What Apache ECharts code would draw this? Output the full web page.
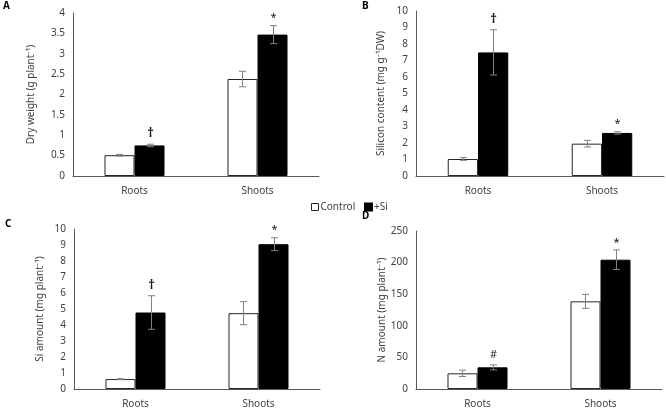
<!DOCTYPE html>
<html><head><meta charset="utf-8">
<script src="https://cdn.jsdelivr.net/npm/echarts@6/dist/echarts.min.js"></script>
<style>html,body{margin:0;padding:0;background:#fff}#c{width:666px;height:409px}</style>
</head><body><div id="c"></div>
<script>
// ---- data ----
const categories = ['Roots', 'Shoots'];
const seriesNames = ['Control', '+Si'];

// Panel A: Dry weight (g plant-1)
const aControl = [0.51, 2.38];
const aControlErr = [0.02, 0.19];
const aSi = [0.75, 3.47];
const aSiErr = [0.03, 0.22];
const aMarks = ['†', '*'];
const aTicks = { max: 4, interval: 0.5 };

// Panel B: Silicon content (mg g-1 DW)
const bControl = [1.03, 1.96];
const bControlErr = [0.08, 0.2];
const bSi = [7.49, 2.61];
const bSiErr = [1.37, 0.07];
const bMarks = ['†', '*'];
const bTicks = { max: 10, interval: 1 };

// Panel C: Si amount (mg plant-1)
const cControl = [0.62, 4.74];
const cControlErr = [0.03, 0.72];
const cSi = [4.78, 9.05];
const cSiErr = [1.05, 0.4];
const cMarks = ['†', '*'];
const cTicks = { max: 10, interval: 1 };

// Panel D: N amount (mg plant-1)
const dControl = [24.8, 138.7];
const dControlErr = [5, 11];
const dSi = [34.3, 204.6];
const dSiErr = [4, 15.5];
const dMarks = ['#', '*'];
const dTicks = { max: 250, interval: 50 };

const yNames = ['Dry weight (g plant⁻¹)', 'Silicon content (mg g⁻¹DW)', 'Si amount (mg plant⁻¹)', 'N amount (mg plant⁻¹)'];
const panelLetters = ['A', 'B', 'C', 'D'];

// ---- layout ----
const FONT = '"Noto Sans", "Open Sans", sans-serif';
const TXT = '#404040';
const BAR_FRAC = 0.244;
const grids = [
  { left: 73, top: 13, width: 246, height: 163 },
  { left: 416, top: 11, width: 248, height: 165 },
  { left: 74, top: 229, width: 246, height: 161 },
  { left: 416, top: 231, width: 246, height: 158 }
];
const nameGaps = [37, 30, 29, 28];
const letterPos = [[3, 1], [362, 1], [5, 219], [362, 211]];

const panels = [
  [aControl, aControlErr, aSi, aSiErr, aMarks, aTicks],
  [bControl, bControlErr, bSi, bSiErr, bMarks, bTicks],
  [cControl, cControlErr, cSi, cSiErr, cMarks, cTicks],
  [dControl, dControlErr, dSi, dSiErr, dMarks, dTicks]
];

const xAxis = [], yAxis = [], series = [];
panels.forEach((p, i) => {
  const [ctl, ctlE, si, siE, marks, ticks] = p;
  xAxis.push({
    type: 'category', gridIndex: i, data: categories,
    axisTick: { show: false },
    axisLine: { lineStyle: { color: '#595959', width: 1 } },
    axisLabel: { color: TXT, fontSize: 10, fontFamily: FONT, margin: 10 }
  });
  yAxis.push({
    type: 'value', gridIndex: i, min: 0, max: ticks.max, interval: ticks.interval,
    splitLine: { show: false }, axisTick: { show: false },
    axisLine: { show: true, lineStyle: { color: '#595959', width: 1 } },
    axisLabel: { color: TXT, fontSize: 10, fontFamily: FONT, margin: 8 },
    name: yNames[i], nameLocation: 'middle', nameGap: nameGaps[i],
    nameTextStyle: { color: TXT, fontSize: 10, fontFamily: FONT }
  });
  series.push({
    name: seriesNames[0], type: 'bar', xAxisIndex: i, yAxisIndex: i,
    data: ctl, barWidth: (BAR_FRAC * 100) + '%', barGap: '0%',
    itemStyle: { color: '#ffffff', borderColor: '#262626', borderWidth: 1 },
    silent: true
  });
  series.push({
    name: seriesNames[1], type: 'bar', xAxisIndex: i, yAxisIndex: i,
    data: si, barWidth: (BAR_FRAC * 100) + '%', barGap: '0%',
    itemStyle: { color: '#000000', borderColor: '#000000', borderWidth: 1 },
    silent: true
  });
  const errData = [];
  ctl.forEach((v, k) => errData.push([k, v, ctlE[k], -1]));
  si.forEach((v, k) => errData.push([k, v, siE[k], 1]));
  series.push({
    type: 'custom', xAxisIndex: i, yAxisIndex: i, silent: true, z: 5,
    data: errData,
    renderItem: function (params, api) {
      const ci = api.value(0), v = api.value(1), e = api.value(2), side = api.value(3);
      const band = api.size([1, 0])[0];
      const bw = band * BAR_FRAC;
      const x = Math.round(api.coord([ci, v])[0] + side * bw / 2) + 0.5;
      const yt = api.coord([ci, v + e])[1];
      const yb = api.coord([ci, v - e])[1];
      const cap = 3.5;
      const st = { stroke: '#808080', lineWidth: 1 };
      const children = [
        { type: 'line', shape: { x1: x, y1: yt, x2: x, y2: yb }, style: st },
        { type: 'line', shape: { x1: x - cap, y1: yt, x2: x + cap, y2: yt }, style: st },
        { type: 'line', shape: { x1: x - cap, y1: yb, x2: x + cap, y2: yb }, style: st }
      ];
      if (side === 1) {
        const m = marks[ci];
        children.push({
          type: 'text',
          style: { text: m, x: x, y: yt - (m === '*' ? 2 : 4), align: 'center', verticalAlign: 'bottom',
                   fill: '#1a1a1a', font: (m === '†' ? 'bold 13px ' : '11px ') + FONT }
        });
      }
      return { type: 'group', children: children };
    }
  });
});

const graphic = panelLetters.map((t, i) => ({
  type: 'text', left: letterPos[i][0], top: letterPos[i][1],
  style: { text: t, fill: '#000', font: 'bold 10px ' + FONT }
}));

const legendBase = {
  top: 202, itemWidth: 7, itemHeight: 7, padding: 0,
  textStyle: { color: TXT, fontSize: 10, fontFamily: FONT, padding: [0, 0, 0, -3] }
};

const chart = echarts.init(document.getElementById('c'), null, { renderer: 'canvas' });
chart.setOption({
  animation: false,
  grid: grids,
  xAxis: xAxis,
  yAxis: yAxis,
  series: series,
  graphic: graphic,
  legend: [
    Object.assign({}, legendBase, { left: 311,
      data: [{ name: seriesNames[0], icon: 'rect', itemStyle: { color: '#fff', borderColor: '#262626', borderWidth: 1 } }] }),
    Object.assign({}, legendBase, { left: 364,
      data: [{ name: seriesNames[1], icon: 'rect', itemStyle: { color: '#000' } }] })
  ]
});
</script></body></html>
